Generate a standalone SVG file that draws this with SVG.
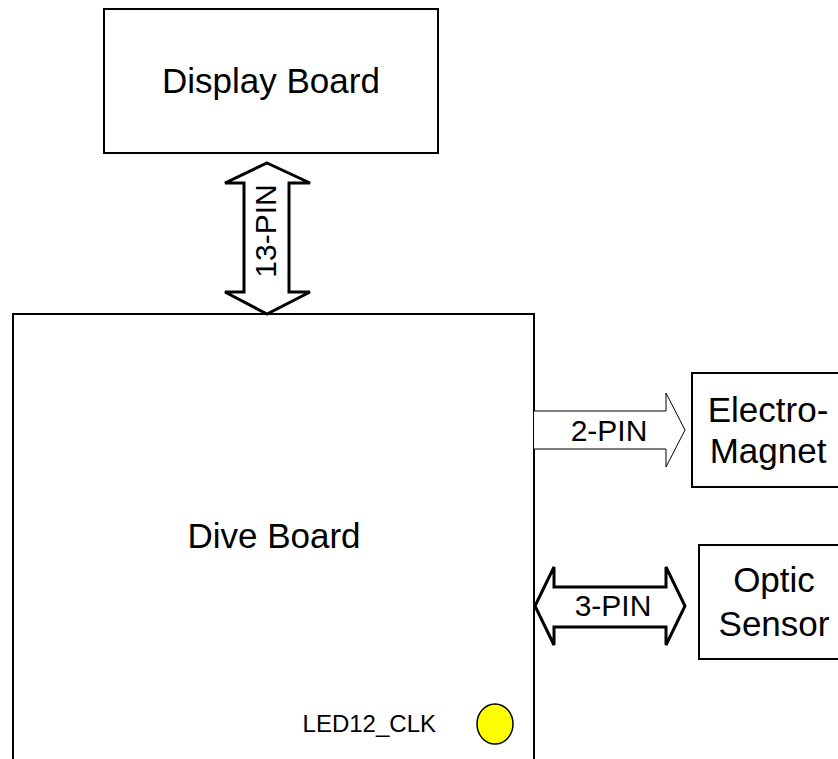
<svg xmlns="http://www.w3.org/2000/svg" width="838" height="759" viewBox="0 0 838 759">
<style>
.box{fill:#fff;stroke:#000;stroke-width:2}
.lbl{font-family:"Liberation Sans",Arial,sans-serif;font-size:35px;fill:#000;text-anchor:middle}
.pin{font-family:"Liberation Sans",Arial,sans-serif;font-size:30px;fill:#000;text-anchor:middle}
.thick{fill:#fff;stroke:#000;stroke-width:3;stroke-linejoin:miter}
.thin{fill:#fff;stroke:#000;stroke-width:1}
</style>
<rect width="838" height="759" fill="#fff"/>
<g id="display-board">
<rect class="box" x="104" y="9" width="334" height="144"/>
<text class="lbl" x="271" y="93">Display Board</text>
</g>
<g id="dive-board">
<rect class="box" x="13" y="314" width="521" height="470"/>
<text class="lbl" x="274" y="548">Dive Board</text>
<text x="436" y="732" style="font-family:'Liberation Sans',Arial,sans-serif;font-size:24px;text-anchor:end">LED12_CLK</text>
<ellipse cx="495" cy="724" rx="18" ry="20" fill="#ffff00" stroke="#000" stroke-width="1.5"/>
</g>
<g id="electro-magnet">
<rect class="box" x="692" y="373" width="152" height="114"/>
<text class="lbl" x="768" y="422">Electro-</text>
<text class="lbl" x="768" y="463">Magnet</text>
</g>
<g id="optic-sensor">
<rect class="box" x="699" y="545" width="150" height="114"/>
<text class="lbl" x="774" y="592">Optic</text>
<text class="lbl" x="774" y="636">Sensor</text>
</g>
<g id="connectors">
<g id="c-13pin">
<polygon class="thick" points="267,163 310,183 289,183 289,292 310,292 267,314 225,292 244,292 244,183 225,183"/>
<text class="pin" transform="translate(276,231) rotate(-90)">13-PIN</text>
</g>
<g id="c-2pin">
<path class="thin" d="M534,411 L666,411 L666,393 L685,430 L666,467 L666,449 L534,449"/>
<text class="pin" x="609" y="441">2-PIN</text>
</g>
<g id="c-3pin">
<polygon class="thick" points="535,606 554,567 554,587 666,587 666,567 685,606 666,645 666,627 554,627 554,645"/>
<text class="pin" x="613" y="616">3-PIN</text>
</g>
</g>
</svg>
